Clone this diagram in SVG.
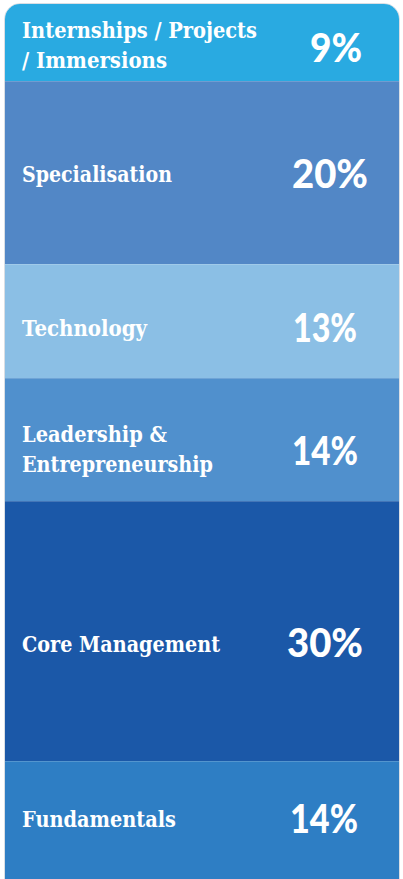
<svg xmlns="http://www.w3.org/2000/svg" width="403" height="879" viewBox="0 0 403 879">
<style>
.lbl{font-family:"DejaVu Serif","Liberation Serif",serif;font-weight:bold;font-size:21.5px;fill:#ffffff;}
.pct{font-family:Lato,"Open Sans",sans-serif;font-weight:900;font-size:39px;fill:#ffffff;text-anchor:middle;}
.sep{stroke:#ffffff;stroke-opacity:0.18;stroke-width:1;}
</style>
<defs>
<clipPath id="box"><rect x="5" y="4" width="394" height="900" rx="15" ry="15"/></clipPath>
</defs>
<rect width="403" height="879" fill="#ffffff"/>
<rect x="4.5" y="3.5" width="395" height="900" rx="15.5" ry="15.5" fill="none" stroke="#d9dee4" stroke-width="1"/>
<g clip-path="url(#box)">
<g id="internships">
<rect x="5" y="4" width="394" height="77" fill="#29aae1"/>
<text class="lbl" x="22" y="38" textLength="235" lengthAdjust="spacingAndGlyphs">Internships / Projects</text>
<text class="lbl" x="22" y="68" textLength="145" lengthAdjust="spacingAndGlyphs">/ Immersions</text>
<text class="pct" x="336" y="62" textLength="52" lengthAdjust="spacingAndGlyphs">9%</text>
</g>
<g id="specialisation">
<rect x="5" y="81" width="394" height="183" fill="#5287c6"/>
<text class="lbl" x="22" y="182" textLength="150" lengthAdjust="spacingAndGlyphs">Specialisation</text>
<text class="pct" x="330" y="188" textLength="76" lengthAdjust="spacingAndGlyphs">20%</text>
</g>
<g id="technology">
<rect x="5" y="264" width="394" height="114" fill="#8bbfe5"/>
<text class="lbl" x="22" y="336" textLength="125" lengthAdjust="spacingAndGlyphs">Technology</text>
<text class="pct" x="325" y="342" textLength="64" lengthAdjust="spacingAndGlyphs">13%</text>
</g>
<g id="leadership">
<rect x="5" y="378" width="394" height="123" fill="#5090cd"/>
<text class="lbl" x="22" y="442" textLength="145" lengthAdjust="spacingAndGlyphs">Leadership &amp;</text>
<text class="lbl" x="22" y="472" textLength="191" lengthAdjust="spacingAndGlyphs">Entrepreneurship</text>
<text class="pct" x="325" y="465" textLength="66" lengthAdjust="spacingAndGlyphs">14%</text>
</g>
<g id="core">
<rect x="5" y="501" width="394" height="260" fill="#1b58a8"/>
<text class="lbl" x="22" y="652" textLength="198" lengthAdjust="spacingAndGlyphs">Core Management</text>
<text class="pct" x="325" y="657" textLength="76" lengthAdjust="spacingAndGlyphs">30%</text>
</g>
<g id="fundamentals">
<rect x="5" y="761" width="394" height="130" fill="#2e7ec4"/>
<text class="lbl" x="22" y="827" textLength="154" lengthAdjust="spacingAndGlyphs">Fundamentals</text>
<text class="pct" x="324" y="833" textLength="68" lengthAdjust="spacingAndGlyphs">14%</text>
</g>
<g id="separators">
<line class="sep" x1="5" y1="81.5" x2="399" y2="81.5"/>
<line class="sep" x1="5" y1="264.5" x2="399" y2="264.5"/>
<line class="sep" x1="5" y1="378.5" x2="399" y2="378.5"/>
<line class="sep" x1="5" y1="501.5" x2="399" y2="501.5"/>
<line class="sep" x1="5" y1="761.5" x2="399" y2="761.5"/>
</g>
</g>
</svg>
